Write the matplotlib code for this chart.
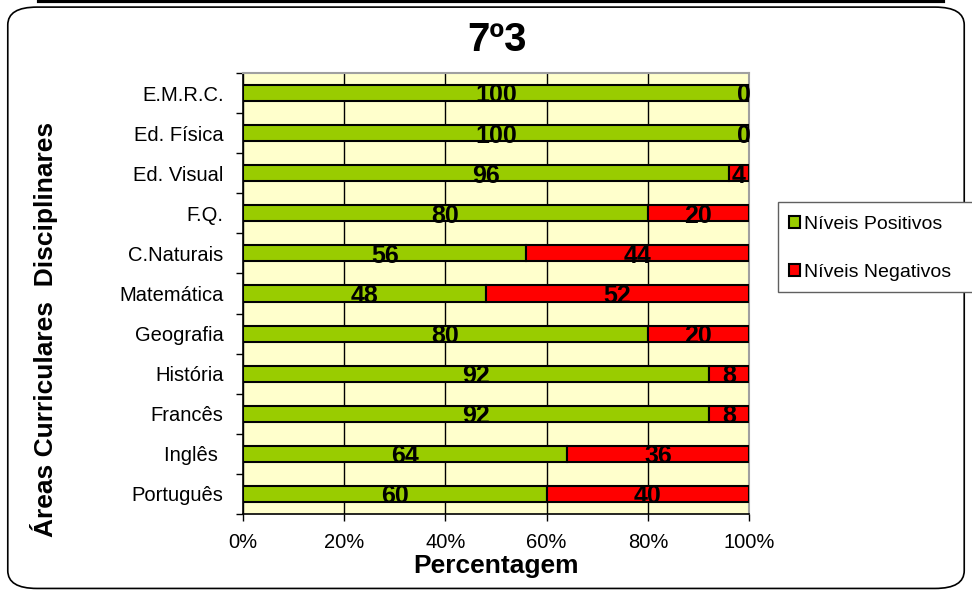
import matplotlib
matplotlib.use('Agg')
import matplotlib.pyplot as plt
from matplotlib.patches import FancyBboxPatch, Rectangle
import numpy as np

disciplinas = ['Português', 'Inglês ', 'Francês', 'História', 'Geografia', 'Matemática',
               'C.Naturais', 'F.Q.', 'Ed. Visual', 'Ed. Física', 'E.M.R.C.']
positivos = [60, 64, 92, 92, 80, 48, 56, 80, 96, 100, 100]
negativos = [40, 36, 8, 8, 20, 52, 44, 20, 4, 0, 0]

plt.rcParams['font.family'] = ['Liberation Sans', 'DejaVu Sans']

fig = plt.figure(figsize=(9.72, 5.92), dpi=100)

# rounded frame around the chart
frame = FancyBboxPatch((0.008, 0.006), 0.984, 0.982, boxstyle='round,pad=0,rounding_size=0.03',
                       transform=fig.transFigure, fill=False, edgecolor='black', linewidth=1.2)
fig.patches.append(frame)
fig.add_artist(plt.Line2D([0.04, 0.97], [0.998, 0.998], color='black', linewidth=3))

ax = fig.add_axes([0.25, 0.1318, 0.5206, 0.7449])
ax.set_facecolor('#FFFFCC')

y = np.arange(len(disciplinas))
pos = np.array(positivos) / 100.0
neg = np.array(negativos) / 100.0
b1 = ax.barh(y, pos, height=0.4, color='#99CC00', edgecolor='black', linewidth=1.5, label='Níveis Positivos', zorder=3)
b2 = ax.barh(y, neg, left=pos, height=0.4, color='#FF0000', edgecolor='black', linewidth=1.5, label='Níveis Negativos', zorder=3)

for i in range(len(disciplinas)):
    ax.text(pos[i] / 2, y[i] - 0.06, str(positivos[i]), ha='center', va='center', fontsize=18,
            fontweight='bold', zorder=4)
    xn = pos[i] + neg[i] / 2 if negativos[i] > 0 else 0.99
    ax.text(xn, y[i] - 0.06, str(negativos[i]), ha='center', va='center', fontsize=18,
            fontweight='bold', zorder=4)

ax.set_xlim(0, 1)
ax.set_ylim(-0.5, len(disciplinas) - 0.5)
ax.set_xticks([0, 0.2, 0.4, 0.6, 0.8, 1.0])
ax.set_xticklabels(['0%', '20%', '40%', '60%', '80%', '100%'], fontsize=14.5)
ax.set_yticks(y)
ax.set_yticklabels(disciplinas, fontsize=14.5)
ax.set_yticks(np.arange(-0.5, len(disciplinas), 1), minor=True)
ax.tick_params(axis='y', which='major', length=0, pad=14)
ax.tick_params(axis='y', which='minor', length=5, width=1)
ax.tick_params(axis='x', length=5, width=1, pad=9)
ax.grid(axis='x', color='black', linewidth=1, zorder=1)
ax.set_axisbelow(True)

for s in ['top', 'right']:
    ax.spines[s].set_color('#A0A0A0')
    ax.spines[s].set_linewidth(1.5)
ax.spines['left'].set_linewidth(1.2)
ax.spines['bottom'].set_linewidth(1.2)

ax.set_xlabel('Percentagem', fontsize=19, fontweight='bold', labelpad=1)
fig.text(0.045, 0.443, 'Áreas Curriculares  Disciplinares', rotation=90, ha='center', va='center',
         fontsize=19, fontweight='bold')
fig.text(0.511, 0.932, '7º3', ha='center', va='center', fontsize=29, fontweight='bold')

# legend box, running past the right edge as in the original
fig.patches.append(Rectangle((778 / 972, 1 - 292 / 592), 0.25, 90 / 592, transform=fig.transFigure,
                             facecolor='white', edgecolor='#606060', linewidth=1))
leg = fig.legend(handles=[b1, b2], loc='upper left', bbox_to_anchor=(0.8, 0.655), fontsize=14,
                 frameon=False, handlelength=0.55, handleheight=0.55,
                 handletextpad=0.2, labelspacing=1.6, borderpad=0.6, borderaxespad=0)

fig.savefig('out.png', dpi=100)
